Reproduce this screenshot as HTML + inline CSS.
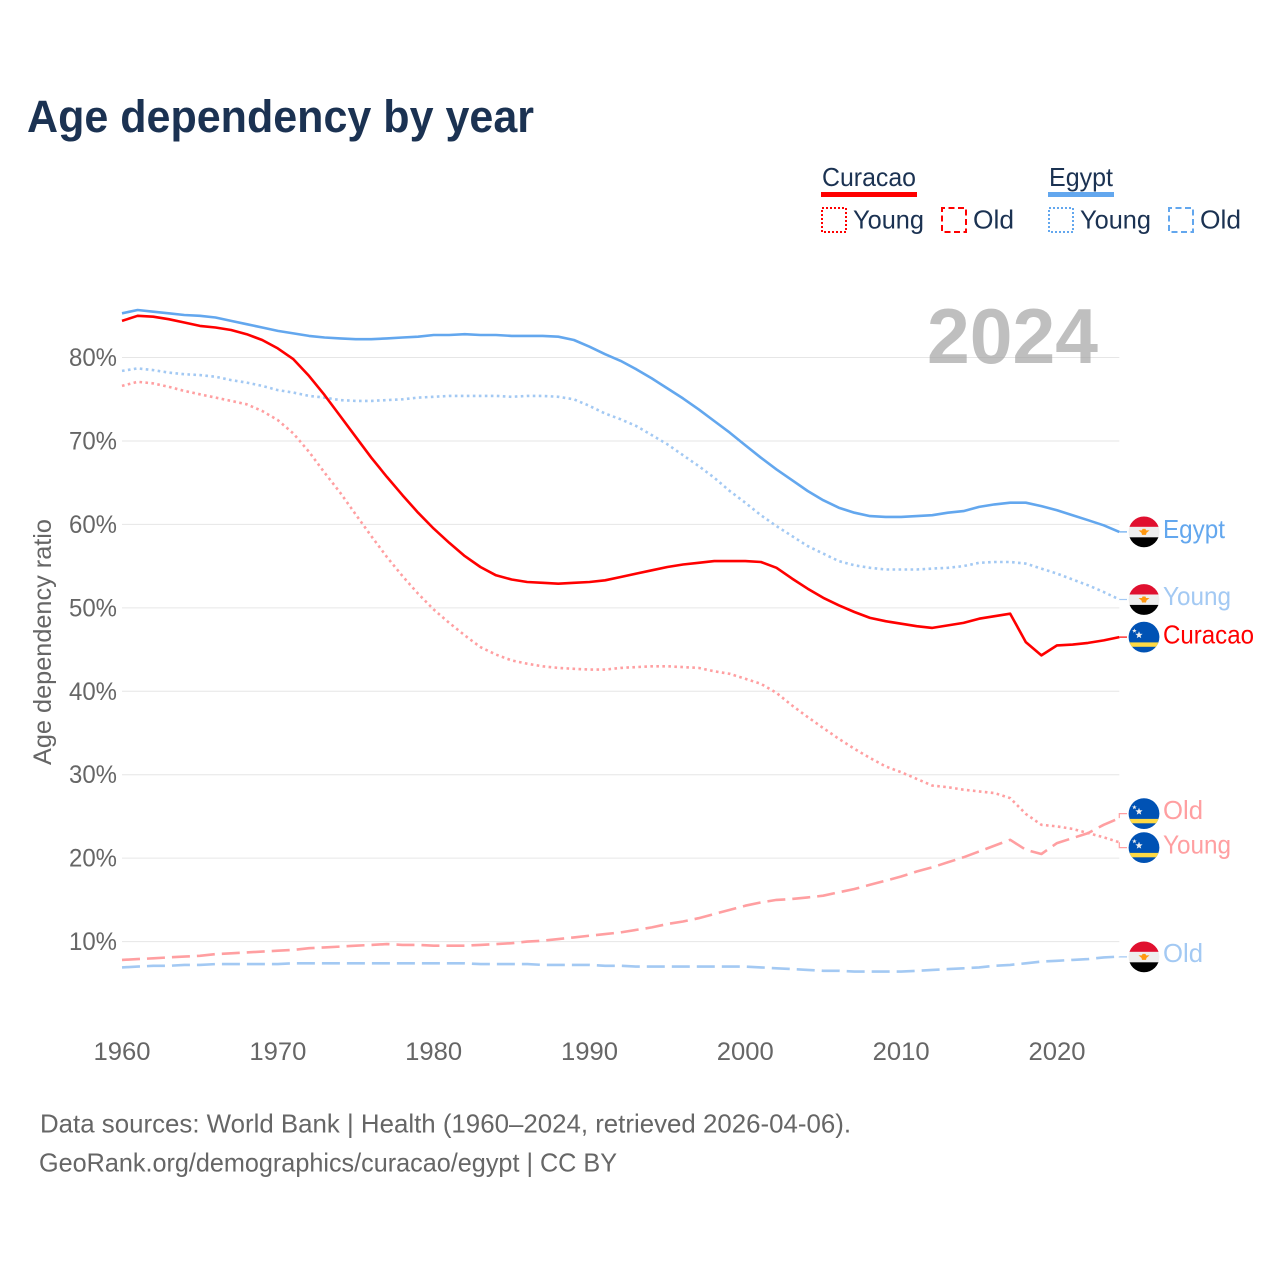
<!DOCTYPE html>
<html lang="en">
<head>
<meta charset="utf-8">
<title>Age dependency by year</title>
<style>
html,body{margin:0;padding:0;background:#fff}
svg{display:block}
text{font-family:"Liberation Sans",sans-serif}
</style>
</head>
<body>
<svg id="chart" xmlns="http://www.w3.org/2000/svg" width="1280" height="1280" viewBox="0 0 1280 1280">
  <defs>
    <clipPath id="flag-clip"><circle cx="0" cy="0" r="15.4"/></clipPath>
  </defs>
  <rect width="1280" height="1280" fill="#fff"/>
  <text x="27" y="132" font-size="45" font-weight="700" fill="#1b3252" textLength="507" lengthAdjust="spacingAndGlyphs">Age dependency by year</text>

  <g font-size="26" fill="#1b3252">
    <text x="822" y="186" textLength="94" lengthAdjust="spacingAndGlyphs">Curacao</text>
    <rect x="821" y="192" width="96" height="5" fill="#ff0000"/>
    <rect x="822" y="208" width="24" height="24" fill="none" stroke="#ff0000" stroke-width="2" stroke-dasharray="2 2"/>
    <text x="853" y="228.5" textLength="71" lengthAdjust="spacingAndGlyphs">Young</text>
    <rect x="942" y="208" width="24" height="24" fill="none" stroke="#ff0000" stroke-width="2" stroke-dasharray="6 3.5" stroke-dashoffset="3"/>
    <text x="973" y="228.5" textLength="41" lengthAdjust="spacingAndGlyphs">Old</text>
    <text x="1049" y="186" textLength="64" lengthAdjust="spacingAndGlyphs">Egypt</text>
    <rect x="1048" y="192" width="66" height="5" fill="#63a7ee"/>
    <rect x="1049" y="208" width="24" height="24" fill="none" stroke="#63a7ee" stroke-width="2" stroke-dasharray="2 2"/>
    <text x="1080" y="228.5" textLength="71" lengthAdjust="spacingAndGlyphs">Young</text>
    <rect x="1169" y="208" width="24" height="24" fill="none" stroke="#63a7ee" stroke-width="2" stroke-dasharray="6 3.5" stroke-dashoffset="3"/>
    <text x="1200" y="228.5" textLength="41" lengthAdjust="spacingAndGlyphs">Old</text>
  </g>

  <g id="grid"></g>
  <text x="927" y="363" font-size="78" font-weight="700" fill="#a0a0a0" fill-opacity="0.68" textLength="171" lengthAdjust="spacingAndGlyphs">2024</text>
  <g id="yticks"></g>
  <g id="xticks"></g>
  <text transform="translate(51,642) rotate(-90)" text-anchor="middle" font-size="25" fill="#666" textLength="246" lengthAdjust="spacingAndGlyphs">Age dependency ratio</text>
  <g id="series"></g>
  <g id="ends"></g>

  <g font-size="26" fill="#666">
    <text x="40" y="1132.5" textLength="811" lengthAdjust="spacingAndGlyphs">Data sources: World Bank | Health (1960–2024, retrieved 2026-04-06).</text>
    <text x="39" y="1171.5" textLength="578" lengthAdjust="spacingAndGlyphs">GeoRank.org/demographics/curacao/egypt | CC BY</text>
  </g>
</svg>
<script>
const startYear = 1960;
const xTicks = [1960, 1970, 1980, 1990, 2000, 2010, 2020];
const yTicks = [10, 20, 30, 40, 50, 60, 70, 80];
const curacaoTotal = [84.4,85.0,84.9,84.6,84.2,83.8,83.6,83.3,82.8,82.1,81.1,79.8,77.8,75.5,73.0,70.5,68.0,65.7,63.5,61.4,59.5,57.8,56.2,54.9,53.9,53.4,53.1,53.0,52.9,53.0,53.1,53.3,53.7,54.1,54.5,54.9,55.2,55.4,55.6,55.6,55.6,55.5,54.8,53.5,52.3,51.2,50.3,49.5,48.8,48.4,48.1,47.8,47.6,47.9,48.2,48.7,49.0,49.3,45.9,44.3,45.5,45.6,45.8,46.1,46.5];
const curacaoYoung = [76.6,77.1,76.9,76.5,76.0,75.6,75.2,74.8,74.4,73.6,72.5,70.9,68.7,66.2,63.8,61.2,58.6,56.1,53.8,51.7,49.8,48.2,46.7,45.3,44.4,43.7,43.3,43.0,42.8,42.7,42.6,42.6,42.8,42.9,43.0,43.0,42.9,42.8,42.4,42.1,41.5,40.9,39.8,38.3,36.9,35.6,34.3,33.1,32.0,31.0,30.3,29.5,28.7,28.5,28.2,28.0,27.8,27.2,25.3,24.0,23.8,23.5,23.0,22.5,21.9];
const curacaoOld = [7.8,7.9,8.0,8.1,8.2,8.3,8.5,8.6,8.7,8.8,8.9,9.0,9.2,9.3,9.4,9.5,9.6,9.7,9.6,9.6,9.5,9.5,9.5,9.6,9.7,9.8,10.0,10.1,10.3,10.5,10.7,10.9,11.1,11.4,11.7,12.1,12.4,12.8,13.3,13.8,14.3,14.7,15.0,15.1,15.3,15.5,15.9,16.3,16.8,17.3,17.8,18.4,18.9,19.5,20.1,20.8,21.5,22.2,21.0,20.5,21.8,22.4,23.0,24.0,24.8];
const egyptTotal = [85.3,85.7,85.5,85.3,85.1,85.0,84.8,84.4,84.0,83.6,83.2,82.9,82.6,82.4,82.3,82.2,82.2,82.3,82.4,82.5,82.7,82.7,82.8,82.7,82.7,82.6,82.6,82.6,82.5,82.1,81.3,80.4,79.6,78.6,77.5,76.3,75.1,73.8,72.4,71.0,69.5,68.0,66.6,65.3,64.0,62.9,62.0,61.4,61.0,60.9,60.9,61.0,61.1,61.4,61.6,62.1,62.4,62.6,62.6,62.2,61.7,61.1,60.5,59.9,59.1];
const egyptYoung = [78.4,78.7,78.5,78.2,78.0,77.9,77.7,77.3,77.0,76.6,76.1,75.8,75.4,75.2,74.9,74.8,74.8,74.9,75.0,75.2,75.3,75.4,75.4,75.4,75.4,75.3,75.4,75.4,75.3,75.0,74.2,73.3,72.6,71.8,70.7,69.6,68.3,67.0,65.6,64.0,62.6,61.1,59.8,58.6,57.4,56.5,55.6,55.1,54.8,54.6,54.6,54.6,54.7,54.8,55.0,55.4,55.5,55.5,55.3,54.7,54.1,53.4,52.7,51.9,51.0];
const egyptOld = [6.9,7.0,7.1,7.1,7.2,7.2,7.3,7.3,7.3,7.3,7.3,7.4,7.4,7.4,7.4,7.4,7.4,7.4,7.4,7.4,7.4,7.4,7.4,7.3,7.3,7.3,7.3,7.2,7.2,7.2,7.2,7.1,7.1,7.0,7.0,7.0,7.0,7.0,7.0,7.0,7.0,6.9,6.8,6.7,6.6,6.5,6.5,6.4,6.4,6.4,6.4,6.5,6.6,6.7,6.8,6.9,7.1,7.2,7.4,7.6,7.7,7.8,7.9,8.1,8.2];

const NS = 'http://www.w3.org/2000/svg';
function xScale(year) { return 122 + (year - 1960) * 15.583; }
function yScale(pct) { return 1025 - pct * 8.343; }
function make(parent, tag, attrs, content) {
  const el = document.createElementNS(NS, tag);
  for (const k in attrs) el.setAttribute(k, attrs[k]);
  if (content !== undefined) el.textContent = content;
  parent.appendChild(el);
  return el;
}
const gridG = document.getElementById('grid');
const yG = document.getElementById('yticks');
const xG = document.getElementById('xticks');
const seriesG = document.getElementById('series');
const endsG = document.getElementById('ends');

yTicks.forEach(function (t) {
  const line = make(gridG, 'line', {x1: xScale(1960), x2: xScale(2024), y1: yScale(t), y2: yScale(t), stroke: '#e6e6e6', 'stroke-width': 1});
  
  
  const label = make(yG, 'text', {x: 117, y: yScale(t) + 8.5, 'text-anchor': 'end', 'font-size': 25, fill: '#666', textLength: 48, lengthAdjust: 'spacingAndGlyphs'}, t + '%');
  
  
});
xTicks.forEach(function (t) {
  const label = make(xG, 'text', {x: xScale(t), y: 1060, 'text-anchor': 'middle', 'font-size': 25, fill: '#666', textLength: 57, lengthAdjust: 'spacingAndGlyphs'}, String(t));
  
  
});

function pathFor(values) {
  return values.map(function (v, i) {
    return (i ? 'L' : 'M') + xScale(startYear + i).toFixed(1) + ' ' + yScale(v).toFixed(1);
  }).join('');
}
function drawLine(values, color, dash, name) {
  const p = make(seriesG, 'path', {d: pathFor(values), fill: 'none', stroke: color, 'stroke-width': 2.6, 'stroke-linejoin': 'round'});
  if (dash) p.setAttribute('stroke-dasharray', dash);
  
  
}
const RED = '#ff0000', BLUE = '#63a7ee', LRED = '#ff9fa1', LBLUE = '#a3c9f3';
const DOT = '2.6 3.4', DASH = '18 7';
drawLine(egyptOld, LBLUE, DASH, 'line-egypt-old');
drawLine(curacaoOld, LRED, DASH, 'line-curacao-old');
drawLine(egyptYoung, LBLUE, DOT, 'line-egypt-young');
drawLine(curacaoYoung, LRED, DOT, 'line-curacao-young');
drawLine(egyptTotal, BLUE, null, 'line-egypt-total');
drawLine(curacaoTotal, RED, null, 'line-curacao-total');

function star(cx, cy, r) {
  let pts = [];
  for (let i = 0; i < 10; i++) {
    const rad = i % 2 ? r * 0.42 : r;
    const a = -Math.PI / 2 + i * Math.PI / 5;
    pts.push((cx + rad * Math.cos(a)).toFixed(2) + ',' + (cy + rad * Math.sin(a)).toFixed(2));
  }
  return pts.join(' ');
}
function drawFlag(parent, kind, cy) {
  const g = make(parent, 'g', {transform: 'translate(1144,' + cy.toFixed(1) + ')', 'clip-path': 'url(#flag-clip)'});
  
  
  if (kind === 'egypt') {
    make(g, 'rect', {x: -16, y: -16, width: 32, height: 11, fill: '#e0102f'});
    make(g, 'rect', {x: -16, y: -5, width: 32, height: 10.4, fill: '#eeeeee'});
    make(g, 'rect', {x: -16, y: 5.4, width: 32, height: 11, fill: '#000000'});
    make(g, 'polygon', {points: '-5.5,-1.5 -2,-1.5 -1.5,-3 1.5,-3 2,-1.5 5.5,-1.5 2.5,1 2,3 -2,3 -2.5,1', fill: '#ff9811'});
  } else {
    make(g, 'rect', {x: -16, y: -16, width: 32, height: 32, fill: '#0052b4'});
    make(g, 'rect', {x: -16, y: 5.3, width: 32, height: 4.4, fill: '#ffda44'});
    make(g, 'polygon', {points: star(-5, -2, 3.8), fill: '#f0f0f0'});
    make(g, 'polygon', {points: star(-9.6, -6.3, 2.4), fill: '#f0f0f0'});
  }
}
function drawEnd(values, offset, textDy, text, color, kind, leaderColor, name) {
  const ey = yScale(values[values.length - 1]);
  const cy = ey + offset;
  const ex = xScale(2024);
  const leader = make(endsG, 'polyline', {points: ex.toFixed(1) + ',' + ey.toFixed(1) + ' ' + ex.toFixed(1) + ',' + cy.toFixed(1) + ' 1127,' + cy.toFixed(1), fill: 'none', stroke: leaderColor, 'stroke-width': 1.2});
  
  
  drawFlag(endsG, kind, cy);
  const width = {Egypt: 62, Young: 68, Curacao: 91, Old: 40}[text];
  const t = make(endsG, 'text', {x: 1163, y: cy + textDy, 'font-size': 26, fill: color, textLength: width, lengthAdjust: 'spacingAndGlyphs'}, text);
  
  
}
drawEnd(egyptTotal, 0, 6, 'Egypt', BLUE, 'egypt', BLUE, 'egypt-total');
drawEnd(egyptYoung, 0, 5.5, 'Young', LBLUE, 'egypt', LBLUE, 'egypt-young');
drawEnd(curacaoTotal, 0, 6.3, 'Curacao', RED, 'curacao', RED, 'curacao-total');
drawEnd(curacaoOld, -4.5, 5.5, 'Old', LRED, 'curacao', LRED, 'curacao-old');
drawEnd(curacaoYoung, 5.3, 6, 'Young', LRED, 'curacao', LRED, 'curacao-young');
drawEnd(egyptOld, 0.3, 5.3, 'Old', LBLUE, 'egypt', LBLUE, 'egypt-old');
</script>
</body>
</html>
